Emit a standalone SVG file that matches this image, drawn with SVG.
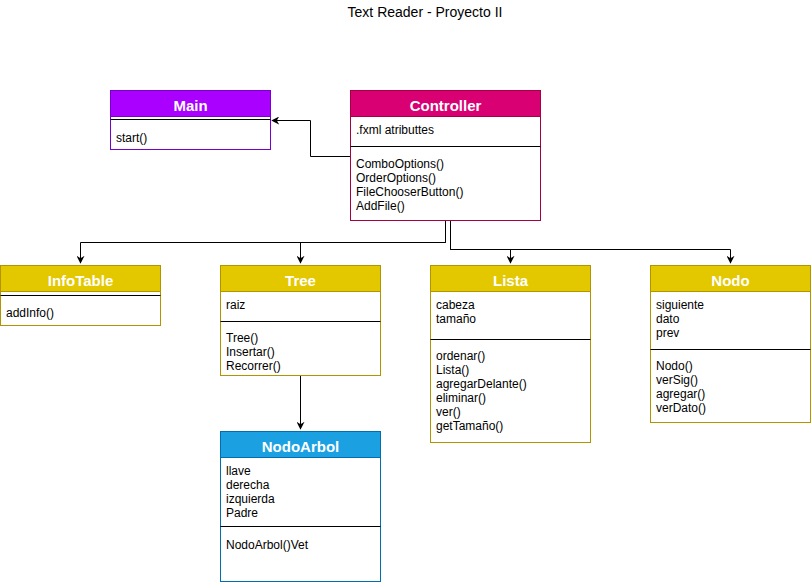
<svg xmlns="http://www.w3.org/2000/svg" width="811" height="585" viewBox="0 0 811 585">
<defs>
<marker id="arr" viewBox="0 0 10 10" refX="9" refY="5" markerWidth="8" markerHeight="8" markerUnits="userSpaceOnUse" orient="auto">
<path d="M0,0 L10,5 L0,10 L3,5 z" fill="#000"/>
</marker>
<style>
.box{fill:#fff}
.hd{font-family:"Liberation Sans",Arial,sans-serif;font-weight:bold;font-size:15px;fill:#fff;text-anchor:middle}
.t{font-family:"Liberation Sans",Arial,sans-serif;font-size:12px;fill:#000}
.sep{stroke:#000;stroke-width:1}
.c{fill:none;stroke:#000;stroke-width:1}
.pur{stroke:#7700CC}
.mag{stroke:#A50040}
.yel{stroke:#B09500}
.blu{stroke:#006EAF}
</style>
</defs>
<rect width="811" height="585" fill="#fff"/>
<text x="425" y="17" font-family="Liberation Sans, Arial, sans-serif" font-size="14" fill="#000" text-anchor="middle">Text Reader - Proyecto II</text>

<g id="connectors">
<path class="c" d="M350.5,156.5 H310.5 V120.5 H272" marker-end="url(#arr)"/>
<path class="c" d="M445.5,220.5 V242.5 H80.5 V263" marker-end="url(#arr)"/>
<path class="c" d="M445.5,220.5 V242.5 H300.5 V263" marker-end="url(#arr)"/>
<path class="c" d="M450.5,220.5 V249.5 H510.5 V263" marker-end="url(#arr)"/>
<path class="c" d="M450.5,220.5 V249.5 H730.5 V263" marker-end="url(#arr)"/>
<path class="c" d="M300.5,375.5 V429" marker-end="url(#arr)"/>
</g>

<g id="Main">
<rect x="110.5" y="90.5" width="160" height="59" class="box pur"/>
<rect x="110.5" y="90.5" width="160" height="26" fill="#AA00FF" class="pur"/>
<line x1="110.5" y1="119.5" x2="270.5" y2="119.5" class="sep"/>
<text x="190.5" y="111" class="hd">Main</text>
<text x="116" y="142" class="t">start()</text>
</g>

<g id="Controller">
<rect x="350.5" y="90.5" width="190" height="130" class="box mag"/>
<rect x="350.5" y="90.5" width="190" height="26" fill="#D80073" class="mag"/>
<line x1="350.5" y1="146.5" x2="540.5" y2="146.5" class="sep"/>
<text x="445.5" y="111" class="hd">Controller</text>
<text x="356" y="134" class="t">.fxml atributtes</text>
<text x="356" y="168" class="t">ComboOptions()</text>
<text x="356" y="182" class="t">OrderOptions()</text>
<text x="356" y="196" class="t">FileChooserButton()</text>
<text x="356" y="210" class="t">AddFile()</text>
</g>

<g id="InfoTable">
<rect x="0.5" y="265.5" width="160" height="60" class="box yel"/>
<rect x="0.5" y="265.5" width="160" height="26" fill="#E3C800" class="yel"/>
<line x1="0.5" y1="295.5" x2="160.5" y2="295.5" class="sep"/>
<text x="80.5" y="286" class="hd">InfoTable</text>
<text x="6" y="317" class="t">addInfo()</text>
</g>

<g id="Tree">
<rect x="220.5" y="265.5" width="160" height="110" class="box yel"/>
<rect x="220.5" y="265.5" width="160" height="26" fill="#E3C800" class="yel"/>
<line x1="220.5" y1="321.5" x2="380.5" y2="321.5" class="sep"/>
<text x="300.5" y="286" class="hd">Tree</text>
<text x="226" y="309" class="t">raiz</text>
<text x="226" y="342" class="t">Tree()</text>
<text x="226" y="356" class="t">Insertar()</text>
<text x="226" y="370" class="t">Recorrer()</text>
</g>

<g id="Lista">
<rect x="430.5" y="265.5" width="160" height="177" class="box yel"/>
<rect x="430.5" y="265.5" width="160" height="26" fill="#E3C800" class="yel"/>
<line x1="430.5" y1="339.5" x2="590.5" y2="339.5" class="sep"/>
<text x="510.5" y="286" class="hd">Lista</text>
<text x="436" y="309" class="t">cabeza</text>
<text x="436" y="323" class="t">tamaño</text>
<text x="436" y="360" class="t">ordenar()</text>
<text x="436" y="374" class="t">Lista()</text>
<text x="436" y="388" class="t">agregarDelante()</text>
<text x="436" y="402" class="t">eliminar()</text>
<text x="436" y="416" class="t">ver()</text>
<text x="436" y="430" class="t">getTamaño()</text>
</g>

<g id="Nodo">
<rect x="650.5" y="265.5" width="160" height="157" class="box yel"/>
<rect x="650.5" y="265.5" width="160" height="26" fill="#E3C800" class="yel"/>
<line x1="650.5" y1="349.5" x2="810.5" y2="349.5" class="sep"/>
<text x="730.5" y="286" class="hd">Nodo</text>
<text x="656" y="309" class="t">siguiente</text>
<text x="656" y="323" class="t">dato</text>
<text x="656" y="337" class="t">prev</text>
<text x="656" y="370" class="t">Nodo()</text>
<text x="656" y="384" class="t">verSig()</text>
<text x="656" y="398" class="t">agregar()</text>
<text x="656" y="412" class="t">verDato()</text>
</g>

<g id="NodoArbol">
<rect x="220.5" y="431.5" width="160" height="150" class="box blu"/>
<rect x="220.5" y="431.5" width="160" height="26" fill="#1BA1E2" class="blu"/>
<line x1="220.5" y1="526.5" x2="380.5" y2="526.5" class="sep"/>
<text x="300.5" y="452" class="hd">NodoArbol</text>
<text x="226" y="475" class="t">llave</text>
<text x="226" y="489" class="t">derecha</text>
<text x="226" y="503" class="t">izquierda</text>
<text x="226" y="517" class="t">Padre</text>
<text x="226" y="549" class="t">NodoArbol()Vet</text>
</g>
</svg>
